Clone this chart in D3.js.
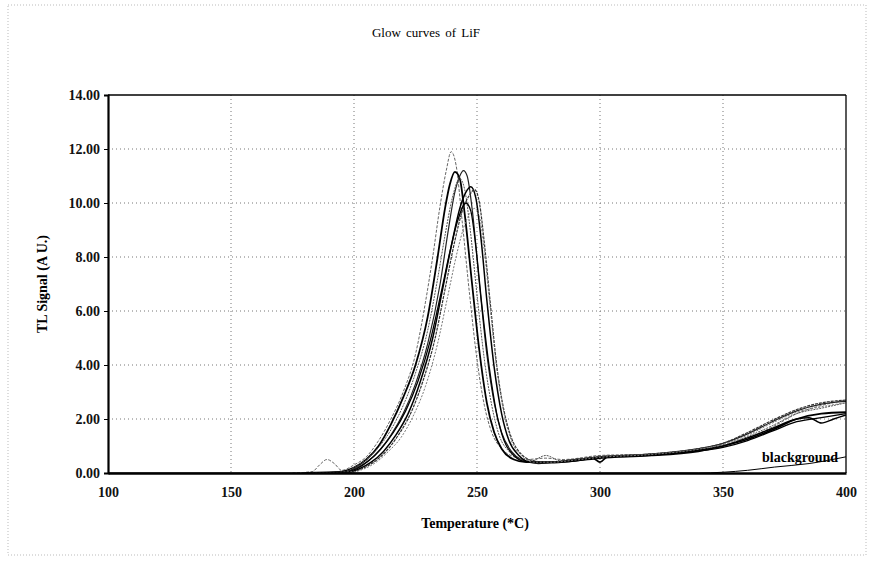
<!DOCTYPE html>
<html>
<head>
<meta charset="utf-8">
<script src="https://cdn.jsdelivr.net/npm/d3@7"></script>
<style>
  html, body { margin: 0; padding: 0; background: #fff; }
  svg { display: block; }
</style>
</head>
<body>
<script>
// ---------- DATA ----------
const title = "Glow curves of LiF";
const xTitle = "Temperature (*C)";
const yTitle = "TL Signal (A U.)";
const xTicks = [100, 150, 200, 250, 300, 350, 400];
const yTicks = [0, 2, 4, 6, 8, 10, 12, 14];

const curve1 = [[175,0],[183,0.05],[186,0.3],[189,0.5],[192,0.35],[195,0.1],[200,0.3],[205,0.6],[210,1.2],[215,2.0],[220,3.0],[225,4.4],[229,6.3],[232,8.0],[235,9.9],[237.5,11.2],[239.5,11.9],[241.5,11.4],[244,9.3],[247,6.6],[250,4.2],[253,2.5],[256,1.5],[260,0.9],[265,0.6],[270,0.5],[278,0.55],[285,0.5],[300,0.65],[320,0.7],[340,0.85],[350,1.05],[360,1.3],[370,1.7],[380,2.2],[390,2.5],[400,2.7]];
const curve2 = [[180,0],[195,0.05],[200,0.2],[205,0.5],[210,1.0],[215,1.8],[220,2.8],[225,4.0],[230,5.8],[234,8.0],[237,9.8],[239,10.7],[241,11.15],[243,10.9],[245,9.6],[248,7.0],[251,4.5],[254,2.6],[257,1.5],[260,0.9],[265,0.5],[270,0.4],[280,0.4],[290,0.45],[297,0.55],[300,0.4],[303,0.6],[320,0.65],[340,0.8],[350,1.0],[360,1.25],[370,1.6],[380,2.0],[390,2.2],[400,2.25]];
const curve3 = [[180,0],[195,0.02],[200,0.15],[205,0.4],[210,0.8],[215,1.4],[220,2.2],[225,3.3],[230,4.8],[235,7.0],[238,8.8],[241,10.4],[243,11.0],[244.5,11.2],[246,11.0],[248,9.8],[251,7.0],[254,4.4],[257,2.6],[260,1.5],[264,0.8],[268,0.5],[275,0.35],[285,0.45],[300,0.6],[320,0.7],[340,0.9],[350,1.1],[360,1.45],[370,1.9],[380,2.3],[390,2.55],[400,2.65]];
const curve4 = [[180,0],[196,0.05],[200,0.2],[205,0.5],[210,0.95],[215,1.6],[220,2.5],[225,3.7],[230,5.3],[234,7.2],[237,8.8],[240,10.2],[243,10.9],[245,10.5],[247,9.2],[250,6.6],[253,4.2],[256,2.5],[259,1.4],[263,0.8],[268,0.5],[272,0.45],[278,0.65],[284,0.45],[290,0.5],[300,0.62],[320,0.68],[340,0.85],[350,1.0],[360,1.35],[370,1.75],[380,2.2],[390,2.4],[400,2.6]];
const curve5 = [[180,0],[198,0.03],[202,0.15],[207,0.4],[212,0.8],[217,1.4],[222,2.2],[227,3.4],[232,5.0],[236,6.8],[240,8.6],[243,9.8],[245.5,10.4],[247.5,10.6],[249.5,10.2],[251.5,8.8],[254,6.4],[257,3.9],[260,2.2],[263,1.2],[267,0.65],[272,0.4],[280,0.38],[290,0.45],[300,0.55],[320,0.65],[340,0.85],[350,1.0],[360,1.3],[370,1.65],[380,2.0],[385,2.05],[390,1.85],[395,2.0],[400,2.15]];
const curve6 = [[180,0],[199,0.03],[203,0.15],[208,0.4],[213,0.8],[218,1.4],[223,2.2],[228,3.4],[233,5.0],[237,6.8],[241,8.6],[244,9.7],[247,10.3],[249,10.5],[251,10.0],[253,8.5],[255.5,6.2],[258,4.0],[261,2.3],[264,1.3],[268,0.7],[273,0.45],[280,0.4],[290,0.5],[300,0.6],[320,0.7],[340,0.9],[350,1.1],[360,1.5],[370,1.95],[380,2.35],[390,2.6],[400,2.7]];
const curve7 = [[180,0],[197,0.04],[201,0.15],[206,0.45],[211,0.9],[216,1.5],[221,2.3],[226,3.4],[231,4.9],[235,6.5],[239,8.2],[242,9.3],[245.5,10.0],[247.5,9.7],[249.5,8.4],[252,6.2],[255,3.9],[258,2.2],[261,1.2],[265,0.65],[270,0.42],[280,0.4],[290,0.48],[300,0.58],[320,0.66],[340,0.82],[350,0.95],[360,1.2],[370,1.55],[380,1.9],[390,2.05],[400,2.2]];
const curve8 = [[180,0],[200,0.05],[204,0.15],[209,0.4],[214,0.8],[219,1.3],[224,2.1],[229,3.2],[234,4.8],[238,6.5],[242,8.2],[245,9.2],[247,9.6],[249,9.8],[251,9.5],[253,8.2],[255.5,6.0],[258,3.9],[261,2.2],[264,1.2],[268,0.65],[273,0.4],[280,0.4],[290,0.48],[300,0.58],[320,0.68],[340,0.88],[350,1.05],[360,1.4],[370,1.85],[380,2.25],[390,2.45],[400,2.6]];
const background = [[100,0],[340,0],[360,0.1],[371,0.22],[385,0.35],[400,0.6]];
const backgroundLabel = "blackground";

const curves = [curve1, curve2, curve3, curve4, curve5, curve6, curve7, curve8];
const curveStyles = [
  {stroke:"#666", width:1.0, dash:"3,1.5"},
  {stroke:"#000", width:1.8, dash:null},
  {stroke:"#222", width:1.2, dash:null},
  {stroke:"#555", width:1.0, dash:"2,1"},
  {stroke:"#000", width:1.5, dash:null},
  {stroke:"#333", width:1.2, dash:"3,1"},
  {stroke:"#000", width:1.3, dash:null},
  {stroke:"#777", width:1.0, dash:"2,1.5"}
];

// ---------- LAYOUT ----------
const W = 874, H = 562;
const m = {left:108, right:W-846, top:95, bottom:H-473};

const svg = d3.select("body").append("svg").attr("width", W).attr("height", H);

// outer dotted frame
svg.append("rect").attr("x",8).attr("y",5).attr("width",858).attr("height",550)
  .attr("fill","none").attr("stroke","#aaa").attr("stroke-width",0.8).attr("stroke-dasharray","1,2");

const x = d3.scaleLinear().domain([100,400]).range([m.left, W-m.right]);
const y = d3.scaleLinear().domain([0,14]).range([H-m.bottom, m.top]);

const serif = "'Liberation Serif','Times New Roman',serif";

// grid
const grid = svg.append("g");
grid.selectAll("line.v").data(xTicks.slice(1,-1)).join("line")
  .attr("x1",d=>x(d)).attr("x2",d=>x(d)).attr("y1",y(14)).attr("y2",y(0))
  .attr("stroke","#777").attr("stroke-width",1).attr("stroke-dasharray","1,3");
grid.selectAll("line.h").data(yTicks.slice(1,-1)).join("line")
  .attr("y1",d=>y(d)).attr("y2",d=>y(d)).attr("x1",x(100)).attr("x2",x(400))
  .attr("stroke","#777").attr("stroke-width",1).attr("stroke-dasharray","1,3");

// clip
svg.append("clipPath").attr("id","clip").append("rect")
  .attr("x",x(100)).attr("y",y(14)).attr("width",x(400)-x(100)).attr("height",y(0)-y(14));

const line = d3.line().x(d=>x(d[0])).y(d=>y(d[1])).curve(d3.curveMonotoneX);
const plot = svg.append("g").attr("clip-path","url(#clip)");

plot.selectAll("path.c").data(curves).join("path")
  .attr("d", line)
  .attr("fill","none")
  .attr("stroke",(d,i)=>curveStyles[i].stroke)
  .attr("stroke-width",(d,i)=>curveStyles[i].width)
  .attr("stroke-dasharray",(d,i)=>curveStyles[i].dash);

plot.append("path").datum(background).attr("d", line)
  .attr("fill","none").attr("stroke","#000").attr("stroke-width",1);

// frame: top/right thin, left/bottom thick
svg.append("line").attr("x1",x(100)).attr("x2",x(400)).attr("y1",y(14)).attr("y2",y(14))
  .attr("stroke","#000").attr("stroke-width",1.3);
svg.append("line").attr("x1",x(400)).attr("x2",x(400)).attr("y1",y(14)).attr("y2",y(0))
  .attr("stroke","#000").attr("stroke-width",1.3);

// axes
const xAxis = d3.axisBottom(x).tickValues(xTicks).tickSize(0).tickPadding(14).tickFormat(d3.format("d"));
const yAxis = d3.axisLeft(y).tickValues(yTicks).tickSize(4).tickPadding(4).tickFormat(d3.format(".2f"));

const gx = svg.append("g").attr("transform",`translate(0,${y(0)})`).call(xAxis);
gx.select(".domain").attr("stroke","#000").attr("stroke-width",2.5);
gx.selectAll("text").attr("font-family",serif).attr("font-size",14).attr("font-weight","bold").attr("fill","#111");

const gy = svg.append("g").attr("transform",`translate(${x(100)},0)`).call(yAxis);
gy.select(".domain").attr("stroke","#000").attr("stroke-width",2.2);
gy.selectAll(".tick line").attr("stroke","#000");
gy.selectAll("text").attr("font-family",serif).attr("font-size",14).attr("font-weight","bold").attr("fill","#111");

// titles
svg.append("text").attr("x",426).attr("y",37).attr("text-anchor","middle")
  .attr("font-family",serif).attr("font-size",13).attr("word-spacing",2).text(title);
svg.append("text").attr("x",475).attr("y",528).attr("text-anchor","middle")
  .attr("font-family",serif).attr("font-size",14).attr("font-weight","bold").text(xTitle);
svg.append("text").attr("transform",`translate(47,${(y(0)+y(14))/2}) rotate(-90)`).attr("text-anchor","middle")
  .attr("font-family",serif).attr("font-size",14).attr("font-weight","bold").text(yTitle);

// background label
svg.append("text").attr("x",x(400)-8).attr("y",y(0.55)+4).attr("text-anchor","end")
  .attr("font-family",serif).attr("font-size",14).attr("font-weight","bold").text(backgroundLabel);
</script>
</body>
</html>
